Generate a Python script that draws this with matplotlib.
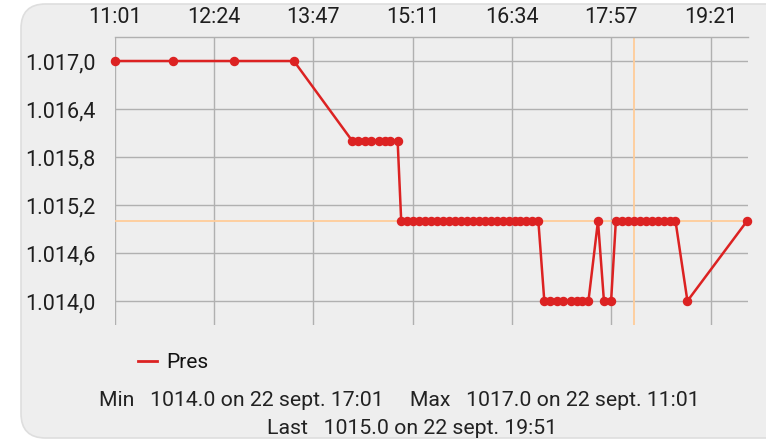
import matplotlib
matplotlib.use("Agg")
import matplotlib.pyplot as plt
from matplotlib.patches import FancyBboxPatch
from matplotlib.ticker import FixedLocator, FuncFormatter

plt.rcParams['font.family'] = ['Roboto', 'DejaVu Sans']

# ---- data ----
times = ["11:01", "11:50", "12:41", "13:31",
         "14:20", "14:25", "14:31", "14:36", "14:42", "14:47", "14:52", "14:58",
         "15:01", "15:06", "15:11", "15:16", "15:21", "15:26", "15:31", "15:36",
         "15:41", "15:46", "15:51", "15:56", "16:01", "16:06", "16:11", "16:16",
         "16:21", "16:26", "16:31", "16:36", "16:41", "16:46", "16:51", "16:56",
         "17:01", "17:06", "17:12", "17:17", "17:23", "17:28", "17:33", "17:38",
         "17:46", "17:51", "17:57",
         "18:01", "18:06", "18:11", "18:16", "18:21", "18:26", "18:31", "18:36",
         "18:41", "18:46", "18:51",
         "19:01", "19:51"]
pres = [1017.0, 1017.0, 1017.0, 1017.0,
        1016.0, 1016.0, 1016.0, 1016.0, 1016.0, 1016.0, 1016.0, 1016.0,
        1015.0, 1015.0, 1015.0, 1015.0, 1015.0, 1015.0, 1015.0, 1015.0,
        1015.0, 1015.0, 1015.0, 1015.0, 1015.0, 1015.0, 1015.0, 1015.0,
        1015.0, 1015.0, 1015.0, 1015.0, 1015.0, 1015.0, 1015.0, 1015.0,
        1014.0, 1014.0, 1014.0, 1014.0, 1014.0, 1014.0, 1014.0, 1014.0,
        1015.0, 1014.0, 1014.0,
        1015.0, 1015.0, 1015.0, 1015.0, 1015.0, 1015.0, 1015.0, 1015.0,
        1015.0, 1015.0, 1015.0,
        1014.0, 1015.0]
x_tick_labels = ["11:01", "12:24", "13:47", "15:11", "16:34", "17:57", "19:21"]
y_ticks = [1014.0, 1014.6, 1015.2, 1015.8, 1016.4, 1017.0]
cursor_time = "18:16"
cursor_value = 1015.0
series_name = "Pres"
stats_line1 = "Min   1014.0 on 22 sept. 17:01     Max   1017.0 on 22 sept. 11:01"
stats_line2 = "Last   1015.0 on 22 sept. 19:51"


def to_min(t):
    h, m = t.split(":")
    return int(h) * 60 + int(m)


t0 = to_min(times[0])
xs = [to_min(t) - t0 for t in times]
xt = [to_min(t) - t0 for t in x_tick_labels]

W, H = 766, 442
fig = plt.figure(figsize=(W / 100, H / 100), dpi=100, facecolor="white")

# card background
card = FancyBboxPatch((21 / W, 4 / H), (W + 40) / W, (H - 8) / H,
                      boxstyle="round,pad=0,rounding_size=0.032",
                      transform=fig.transFigure, facecolor="#eeeeee",
                      edgecolor="#dedede", linewidth=1.2, zorder=-10,
                      mutation_aspect=W / H)
fig.patches.append(card)

ax = fig.add_axes([115 / W, 1 - 325 / H, (748 - 115) / W, (325 - 37) / H])
ax.set_facecolor("none")
ax.set_zorder(2)

red = "#dc2222"
grid_c = "#b0b0b0"
orange = "#ffcc99"

ax.plot(xs, pres, color=red, lw=1.8, marker="o", ms=5.8, zorder=5,
        solid_joinstyle="round", clip_on=False)

ax.set_xlim(0, 530.8)
ax.set_ylim(1013.7, 1017.3)

ax.xaxis.set_major_locator(FixedLocator(xt))
ax.set_xticklabels(x_tick_labels)
ax.xaxis.tick_top()
ax.yaxis.set_major_locator(FixedLocator(y_ticks))


def fmt(v, pos):
    s = f"{v:,.1f}"
    return s.replace(",", "X").replace(".", ",").replace("X", ".")


ax.yaxis.set_major_formatter(FuncFormatter(fmt))
ax.tick_params(axis="x", length=0, pad=6.5, labelsize=15.5, colors="#1e1e1e")
ax.tick_params(axis="y", length=0, pad=14, labelsize=15.5, colors="#1e1e1e")

ax.grid(True, color=grid_c, lw=1.0, zorder=1)
for s in ["left", "right", "bottom"]:
    ax.spines[s].set_visible(False)
ax.spines["top"].set_color(grid_c)
ax.spines["top"].set_linewidth(1.0)

ax.axvline(to_min(cursor_time) - t0, color=orange, lw=1.3, zorder=2)
ax.axhline(cursor_value, color=orange, lw=1.3, zorder=2)

# legend
fig.lines.append(plt.Line2D([138 / W, 157 / W], [1 - 361 / H, 1 - 361 / H],
                            transform=fig.transFigure, color=red, lw=2))
fig.text(166 / W, 1 - 362 / H, series_name, fontsize=15, va="center",
         ha="left", color="#111111")

fig.text(399 / W, 1 - 400 / H, stats_line1, fontsize=15.3, va="center",
         ha="center", color="#222222")
fig.text(412 / W, 1 - 428 / H, stats_line2, fontsize=15.3, va="center",
         ha="center", color="#222222")

fig.savefig("out.png", dpi=100, facecolor="white")
